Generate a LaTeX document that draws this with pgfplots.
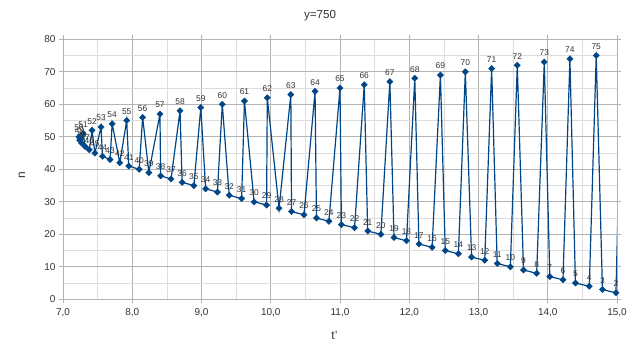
\documentclass[border=0pt]{standalone}
\usepackage{fontspec}
\setmainfont{Liberation Sans}
\usepackage{pgfplots}
\pgfplotsset{compat=1.18}
\definecolor{ser}{HTML}{004586}
\definecolor{gridmaj}{HTML}{B3B3B3}
\definecolor{gridmin}{HTML}{DDDDDD}
\definecolor{txt}{HTML}{333333}
\begin{document}
\begin{tikzpicture}[x=1pt,y=1pt]
\path[use as bounding box] (0,0) rectangle (640,358);
\begin{axis}[
 at={(63pt,58.7pt)}, anchor=south west,
 scale only axis, width=554pt, height=260pt,
 xmin=7, xmax=15, ymin=0, ymax=80,
 xtick={7,8,...,15}, ytick={0,10,...,80},
 minor x tick num=1, minor y tick num=1,
 grid=both,
 major grid style={draw=gridmaj, line width=0.7pt},
 minor grid style={draw=gridmin, line width=0.7pt},
 axis line style={draw=gridmaj, line width=0.7pt},
 tick style={draw=gridmaj, line width=0.7pt},
 tick align=outside, major tick length=4pt, minor tick length=0pt,
 /pgf/number format/assume math mode=true,
 xticklabel style={font=\fontsize{10}{11}\selectfont, text=txt, yshift=-2pt, /pgf/number format/.cd, fixed, fixed zerofill, precision=1, use comma},
 yticklabel style={font=\fontsize{10}{11}\selectfont, text=txt},
 xlabel={t'}, ylabel={n},
 xlabel style={font=\fontsize{12}{13}\selectfont, text=txt, at={(axis description cs:0.49,-0.14)}, anchor=center},
 ylabel style={font=\fontsize{12}{13}\selectfont, text=txt, at={(axis description cs:-0.074,0.478)}, anchor=center},
]
\addplot[draw=ser, line width=1.2pt, forget plot] coordinates {(14.985,2) (15.07,76)};
\addplot[draw=ser, line width=1.2pt, mark=square*, mark size=2.2pt,
  mark options={fill=ser, draw=ser, rotate=45, line width=0.4pt},
  point meta=y,
  nodes near coords={\pgfmathprintnumber{\pgfplotspointmeta}},
  every node near coord/.append style={font=\fontsize{8.4}{9}\selectfont, text=txt, anchor=south, yshift=2.5pt},
 ] table[x=t, y=n] {
t n
14.985 2
14.79 3
14.70 75
14.60 4
14.40 5
14.32 74
14.22 6
14.03 7
13.95 73
13.84 8
13.65 9
13.56 72
13.46 10
13.27 11
13.19 71
13.09 12
12.90 13
12.81 70
12.71 14
12.52 15
12.45 69
12.33 16
12.14 17
12.08 68
11.96 18
11.78 19
11.72 67
11.59 20
11.40 21
11.35 66
11.21 22
11.02 23
11.00 65
10.84 24
10.66 25
10.64 64
10.48 26
10.30 27
10.29 63
10.12 28
9.95 62
9.94 29
9.76 30
9.62 61
9.58 31
9.40 32
9.30 60
9.23 33
9.06 34
8.99 59
8.89 35
8.72 36
8.69 58
8.56 37
8.41 38
8.40 57
8.24 39
8.15 56
8.10 40
7.95 41
7.92 55
7.82 42
7.71 54
7.68 43
7.57 44
7.55 53
7.46 45
7.42 52
7.38 46
7.32 47
7.29 51
7.27 48
7.24 49
7.23 50
};
\end{axis}
\node[font=\fontsize{11.6}{13}\selectfont, text=txt] at (320,342) {y=750};
\end{tikzpicture}
\end{document}
